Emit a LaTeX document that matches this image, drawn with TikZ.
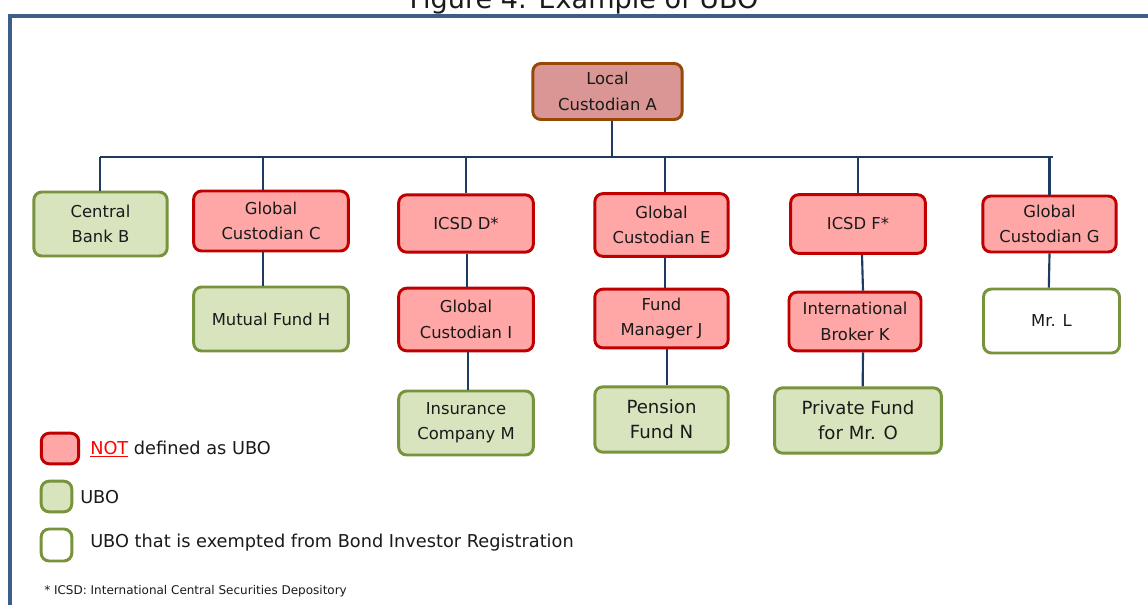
\documentclass[tikz,border=0pt]{standalone}
\usepackage{fontspec}
\setmainfont{DejaVu Sans}
\definecolor{redfill}{HTML}{FFA7A7}
\definecolor{redline}{HTML}{C00000}
\definecolor{grnfill}{HTML}{D7E4BD}
\definecolor{grnline}{HTML}{77933C}
\definecolor{afill}{HTML}{D99694}
\definecolor{aline}{HTML}{984806}
\definecolor{conn}{HTML}{1F3A5F}
\definecolor{frame}{HTML}{3B5E8C}
\definecolor{txt}{HTML}{1A1A1A}
\tikzset{
  basebox/.style={rounded corners=6pt, line width=2.2pt, align=center, text=txt, inner sep=2pt,
    font={\fontsize{12.3}{19}\selectfont}},
  redbox/.style={basebox, fill=redfill, draw=redline},
  grnbox/.style={basebox, fill=grnfill, draw=grnline},
  whtbox/.style={basebox, fill=white, draw=grnline},
  abox/.style={basebox, fill=afill, draw=aline},
  bigtext/.style={font={\fontsize{13.6}{18.5}\selectfont}},
  link/.style={draw=conn, line width=1.6pt},
  legtext/.style={anchor=west, text=txt, font={\fontsize{13.3}{15}\selectfont}, inner sep=0pt}
}
\begin{document}
\begin{tikzpicture}[x=0.75pt,y=-0.75pt]
\clip (0,0) rectangle (1148,604);
\fill[white] (0,0) rectangle (1148,604);
% title
\node[anchor=base, text=txt, font={\fontsize{20.3}{24}\selectfont}, inner sep=0pt] (title) at (584,8) {Figure 4: Example of UBO};
% frame
\draw[frame, line width=2.4pt] (10,640) -- (10,16) -- (1200,16);
% nodes
\node[abox, minimum width=112pt, minimum height=42pt] (A) at (607.5,91.5) {Local\\Custodian A};
\node[grnbox, minimum width=100pt, minimum height=48pt] (B) at (100.5,224) {Central\\Bank B};
\node[redbox, minimum width=116pt, minimum height=45pt] (C) at (271,221) {Global\\Custodian C};
\node[redbox, minimum width=101pt, minimum height=43pt] (D) at (466,223.5) {ICSD D*};
\node[redbox, minimum width=100pt, minimum height=47pt] (E) at (661.5,225) {Global\\Custodian E};
\node[redbox, minimum width=101pt, minimum height=44pt] (F) at (858,224) {ICSD F*};
\node[redbox, minimum width=100pt, minimum height=42pt] (G) at (1049.5,224) {Global\\Custodian G};
\node[grnbox, minimum width=116pt, minimum height=48pt] (H) at (271,319) {Mutual Fund H};
\node[redbox, minimum width=101pt, minimum height=47pt] (I) at (466,319.5) {Global\\Custodian I};
\node[redbox, minimum width=100pt, minimum height=44pt] (J) at (661.5,318.5) {Fund\\Manager J};
\node[redbox, minimum width=99pt, minimum height=44pt] (K) at (855,321.5) {International\\Broker K};
\node[whtbox, minimum width=102pt, minimum height=48pt] (L) at (1051.5,321) {Mr. L};
\node[grnbox, minimum width=101pt, minimum height=48pt] (M) at (466,423) {Insurance\\Company M};
\node[grnbox, bigtext, minimum width=100pt, minimum height=49pt] (N) at (661.5,419.5) {Pension\\Fund N};
\node[grnbox, bigtext, minimum width=125pt, minimum height=49pt] (O) at (858,420.5) {Private Fund\\for Mr. O};
% connectors
\coordinate (bus) at (612,157);
\coordinate (busL) at (100,157);
\coordinate (busR) at (1053,157);
\draw[link] (A.south -| bus) -- (bus);
\draw[link] (busL) -- (busR);
\draw[link] (B.north -| busL) -- (busL);
\draw[link] ([xshift=-6pt]C.north) -- ([xshift=-6pt]C.north |- bus);
\draw[link] (D.north) -- (D.north |- bus);
\draw[link] ([xshift=2.5pt]E.north) -- ([xshift=2.5pt]E.north |- bus);
\draw[link] (F.north) -- (F.north |- bus);
\draw[link] (G.north) -- (G.north |- bus);
\draw[link] ([xshift=-6pt]C.south) -- ([xshift=-6pt]H.north);
\draw[link] ([xshift=1pt]D.south) -- ([xshift=1pt]I.north);
\draw[link] ([xshift=1.5pt]I.south) -- ([xshift=1.5pt]M.north);
\draw[link] ([xshift=2.5pt]E.south) -- ([xshift=2.5pt]J.north);
\draw[link] ([xshift=4pt]J.south) -- ([xshift=4pt]N.north);
\draw[link] ([xshift=3pt]F.south) -- ([xshift=6pt]K.north);
\draw[link] ([xshift=6pt]K.south) -- ([xshift=3.5pt]O.north);
\draw[link] (G.south) -- ([xshift=-2pt]L.north);
% legend
\node[redbox, minimum width=28pt, minimum height=23pt, inner sep=0pt] (lr) at (60,448.5) {};
\node[grnbox, minimum width=23pt, minimum height=23pt, inner sep=0pt] (lg) at (56.5,496.5) {};
\node[whtbox, minimum width=23pt, minimum height=24pt, inner sep=0pt] (lw) at (56.5,545) {};
\node[legtext] (tr) at (90,449) {\textcolor{red}{\underline{NOT}} defined as UBO};
\node[legtext] (tg) at (80,497) {UBO};
\node[legtext] (tw) at (90,543) {UBO that is exempted from Bond Investor Registration};
\node[anchor=west, text=txt, font={\fontsize{9}{10}\selectfont}, inner sep=0pt] (fn) at (44,591) {* ICSD: International Central Securities Depository};
\end{tikzpicture}
\end{document}
